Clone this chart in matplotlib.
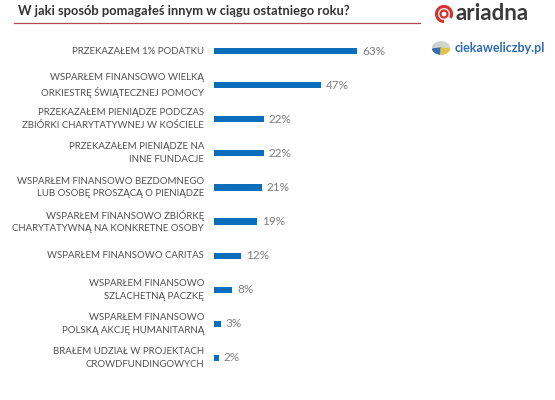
import matplotlib
matplotlib.use("Agg")
import matplotlib.pyplot as plt
from matplotlib.patches import Circle, Arc, Wedge

categories = [
    "PRZEKAZAŁEM 1% PODATKU",
    "WSPARŁEM FINANSOWO WIELKĄ\nORKIESTRĘ ŚWIĄTECZNEJ POMOCY",
    "PRZEKAZAŁEM PIENIĄDZE PODCZAS\nZBIÓRKI CHARYTATYWNEJ W KOŚCIELE",
    "PRZEKAZAŁEM PIENIĄDZE NA\nINNE FUNDACJE",
    "WSPARŁEM FINANSOWO BEZDOMNEGO\nLUB OSOBĘ PROSZĄCĄ O PIENIĄDZE",
    "WSPARŁEM FINANSOWO ZBIÓRKĘ\nCHARYTATYWNĄ NA KONKRETNE OSOBY",
    "WSPARŁEM FINANSOWO CARITAS",
    "WSPARŁEM FINANSOWO\nSZLACHETNĄ PACZKĘ",
    "WSPARŁEM FINANSOWO\nPOLSKĄ AKCJĘ HUMANITARNĄ",
    "BRAŁEM UDZIAŁ W PROJEKTACH\nCROWDFUNDINGOWYCH",
]
values = [63, 47, 22, 22, 21, 19, 12, 8, 3, 2]
title = "W jaki sposób pomagałeś innym w ciągu ostatniego roku?"

plt.rcParams['font.family'] = ['Lato', 'DejaVu Sans']

W, H = 555, 400
fig = plt.figure(figsize=(W / 100, H / 100), dpi=100)
fig.patch.set_facecolor("white")

left_px, right_px = 214, 555
top_px, bot_px = 34, 375
ax = fig.add_axes([left_px / W, 1 - bot_px / H, (right_px - left_px) / W, (bot_px - top_px) / H])
px_per_pct = 2.27
ax.set_xlim(0, (right_px - left_px) / px_per_pct)
ax.set_ylim(len(values) - 0.5, -0.5)

ys = list(range(len(values)))
ax.barh(ys, values, height=0.18, color="#0a6ebd")
for y, v, c in zip(ys, values, categories):
    ax.text(v + 2.2, y, f"{v}%", va="center", ha="left", fontsize=8.5, color="#7f7f7f")
    ax.text(-4.4, y, c, va="center", ha="right", fontsize=6.9, color="#505050",
            linespacing=1.55)
ax.axis("off")

# Title and rule
fig.text(18 / W, 1 - 11 / H, title, fontsize=9.3, fontweight="bold", color="#333333",
         ha="left", va="center")
fig.add_artist(plt.Line2D([14 / W, 420 / W], [1 - 23 / H, 1 - 23 / H], color="#b5494b", lw=0.9))

# Logos
fig.text(456 / W, 1 - 13 / H, "ariadna", fontsize=16, fontweight="bold", color="#3a3a3a",
         ha="left", va="center")
fig.add_artist(Arc((444 / W, 1 - 14 / H), 15 / W, 15 / H, theta1=-40, theta2=270,
                   color="#d9302c", lw=2.2, transform=fig.transFigure))
fig.add_artist(Arc((444 / W, 1 - 14 / H), 7 / W, 7 / H, theta1=0, theta2=360,
                   color="#d9302c", lw=1.6, transform=fig.transFigure))
fig.add_artist(Circle((441 / W, 1 - 48 / H), 8.5 / W, color="#cfd3cc", transform=fig.transFigure))
fig.add_artist(Wedge((441 / W, 1 - 48 / H), 8.5 / W, 190, 260, color="#3a6db0",
                     transform=fig.transFigure))
fig.add_artist(Wedge((441 / W, 1 - 48 / H), 8.5 / W, 270, 350, color="#e3c04a",
                     transform=fig.transFigure))
fig.text(455 / W, 1 - 48 / H, "ciekaweliczby.pl", fontsize=9, fontweight="bold", color="#2e6db4",
         ha="left", va="center")

fig.savefig("out.png", dpi=100)
